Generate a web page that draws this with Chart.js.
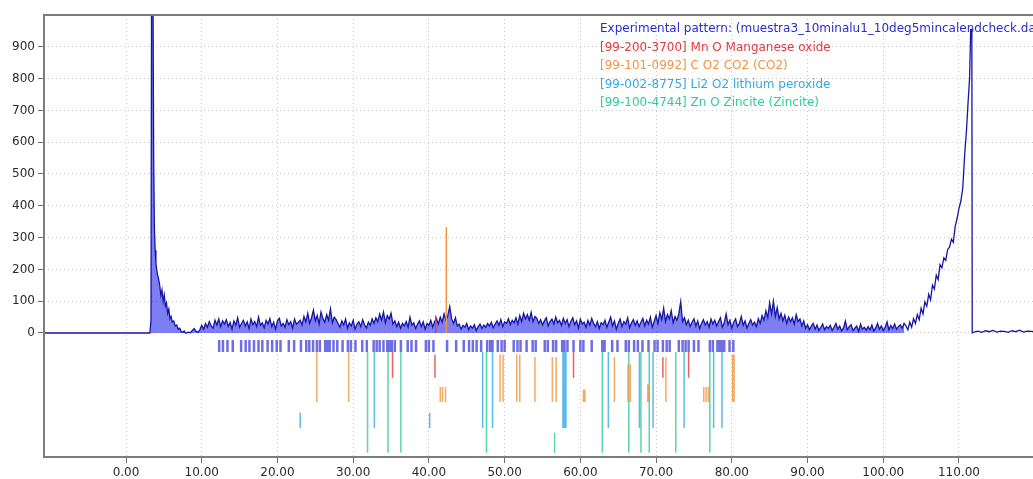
<!DOCTYPE html>
<html>
<head>
<meta charset="utf-8">
<script src="https://cdn.jsdelivr.net/npm/chart.js@4.4.0/dist/chart.umd.min.js"></script>
<style>
  html, body { margin: 0; padding: 0; background: #fff; overflow: hidden; }
  #wrap { position: absolute; left: 0; top: 0; width: 1040px; height: 479px; }
</style>
</head>
<body>
<div id="wrap"><canvas id="xrd" width="1040" height="479"></canvas></div>
<script>
/* === XRD pattern with phase sticks === */

// ==== DATA ====
var xTicks = [0, 10, 20, 30, 40, 50, 60, 70, 80, 90, 100, 110];
var yTicks = [0, 100, 200, 300, 400, 500, 600, 700, 800, 900];

// experimental pattern: low-angle part (2theta, counts)
var headX = [-11, 3.15, 3.3, 3.38, 3.55, 3.65, 3.75, 3.85, 3.95, 4.05, 4.15, 4.3, 4.45, 4.6, 4.75, 4.9, 5.05, 5.2, 5.35, 5.5, 5.65, 5.8, 5.95, 6.1, 6.3, 6.5, 6.7, 6.9, 7.1, 7.3, 7.5, 7.7, 7.85];
var headY = [0, 0, 40, 1150, 1150, 560, 330, 260, 220, 200, 185, 170, 150, 118, 135, 100, 120, 85, 95, 62, 75, 45, 52, 35, 38, 22, 25, 12, 15, 4, 2, 6, 0];

// experimental pattern: scan from 8.00 in 0.25 steps
var scanStart = 8.0, scanStep = 0.25;
var scanY = [
  0, 3, 0, 8, 14, 5, 2, 10, 24, 12, 30, 18, 36, 22, 15, 40, 25, 44, 20, 38,
  28, 42, 20, 33, 12, 38, 25, 48, 18, 30, 40, 22, 35, 14, 44, 26, 36, 20, 50, 24,
  32, 16, 40, 28, 45, 20, 34, 12, 38, 46, 22, 30, 18, 42, 26, 36, 15, 44, 28, 33,
  40, 25, 52, 35, 62, 30, 48, 72, 38, 55, 28, 66, 45, 34, 58, 40, 76, 32, 50, 42,
  30, 18, 38, 25, 44, 15, 32, 22, 40, 12, 28, 35, 20, 42, 26, 16, 34, 24, 45, 30,
  48, 35, 60, 40, 66, 32, 55, 44, 62, 28, 38, 20, 34, 15, 30, 22, 36, 18, 50, 25,
  32, 14, 28, 38, 20, 35, 12, 30, 24, 40, 18, 36, 45, 28, 50, 34, 60, 40, 55, 83,
  45, 30, 48, 22, 28, 12, 24, 18, 30, 10, 22, 15, 26, 8, 20, 28, 14, 25, 18, 30,
  22, 34, 16, 28, 38, 24, 42, 20, 35, 30, 45, 26, 40, 32, 48, 28, 55, 36, 62, 44,
  58, 40, 65, 35, 52, 46, 30, 42, 25, 38, 48, 22, 36, 44, 28, 50, 32, 40, 24, 46,
  30, 42, 20, 36, 48, 26, 38, 15, 44, 28, 34, 18, 40, 24, 46, 30, 20, 36, 14, 32,
  26, 40, 18, 34, 50, 22, 38, 12, 30, 44, 20, 36, 28, 48, 16, 32, 42, 24, 38, 20,
  34, 46, 22, 40, 28, 50, 18, 36, 55, 30, 64, 42, 78, 36, 58, 44, 70, 32, 52, 40,
  60, 98, 35, 48, 26, 40, 20, 34, 45, 22, 38, 14, 30, 42, 25, 36, 18, 44, 28, 40,
  22, 36, 48, 18, 32, 60, 26, 40, 15, 34, 44, 20, 30, 52, 24, 38, 16, 30, 42, 25,
  34, 20, 45, 30, 55, 40, 70, 48, 95, 60, 100, 52, 80, 44, 62, 38, 56, 30, 50, 35,
  48, 28, 58, 36, 44, 22, 38, 15, 26, 10, 22, 30, 12, 25, 8, 18, 28, 10, 20, 14,
  24, 8, 18, 30, 12, 22, 6, 16, 38, 10, 20, 26, 8, 15, 22, 5, 28, 12, 18, 9,
  20, 10, 25, 6, 16, 30, 12, 22, 8, 18, 35, 10, 24, 14, 28, 12, 20, 26, 15, 30
];

// experimental pattern: high-angle part
var tailX = [103.0, 103.25, 103.5, 103.75, 104.0, 104.25, 104.5, 104.75, 105.0, 105.25, 105.5, 105.75, 106.0, 106.25, 106.5, 106.75, 107.0, 107.25, 107.5, 107.75, 108.0, 108.25, 108.5, 108.75, 109.0, 109.25, 109.5, 109.75, 110.0, 110.25, 110.5, 110.75, 111.0, 111.2, 111.4, 111.55, 111.7, 111.75, 112.0, 112.5, 113, 113.5, 114, 114.5, 115, 115.5, 116, 116.5, 117, 117.5, 118, 118.5, 119, 119.5, 120, 121];
var tailY = [22, 10, 34, 18, 45, 30, 58, 42, 78, 60, 98, 84, 122, 104, 150, 138, 182, 168, 215, 205, 236, 228, 262, 270, 295, 285, 335, 360, 392, 415, 455, 560, 640, 725, 800, 955, 955, 0, 3, 6, 2, 7, 4, 8, 3, 6, 5, 2, 7, 4, 9, 3, 6, 5, 4, 5];

// experimental peak list marks
var peakListX = [12.3, 12.8, 13.4, 14.1, 15.2, 15.8, 16.3, 16.9, 17.5, 18.0, 18.7, 19.3, 19.9, 20.4, 21.5, 22.2, 23.1, 23.8, 24.2, 24.7, 25.2, 25.6, 26.3, 26.6, 26.9, 27.4, 27.9, 28.6, 29.3, 29.7, 30.3, 31.2, 31.8, 32.7, 33.1, 33.5, 34.0, 34.5, 34.8, 35.1, 35.5, 36.3, 37.2, 37.7, 38.3, 39.6, 40.0, 40.6, 42.4, 43.6, 44.6, 45.3, 45.8, 46.3, 46.9, 47.7, 48.1, 48.4, 49.1, 49.6, 50.0, 51.2, 51.7, 52.1, 52.9, 53.7, 54.1, 55.3, 55.7, 56.4, 56.8, 57.6, 57.9, 58.3, 59.1, 60.0, 60.4, 61.5, 62.9, 63.2, 64.2, 64.9, 66.0, 66.4, 67.1, 67.6, 68.2, 69.0, 69.8, 70.2, 70.9, 71.4, 71.8, 73.0, 73.5, 73.9, 74.3, 75.0, 75.6, 77.1, 77.5, 78.1, 78.4, 78.7, 79.0, 79.7, 80.2];

// phase sticks: 2theta and relative height (%)
var mnoX = [35.2, 40.8, 59.1, 70.9, 74.3];
var mnoPct = [100, 90, 100, 80, 100];
var co2X = [25.2, 29.4, 41.5, 41.8, 42.2, 49.4, 49.8, 51.6, 52.0, 54.0, 56.3, 56.8, 60.4, 60.6, 64.5, 66.3, 66.6, 68.9, 69.1, 71.3, 76.3, 76.6, 76.9, 80.1, 80.3];
var co2Pct = [100, 100, 30, 30, 30, 95, 95, 95, 95, 90, 90, 90, 25, 25, 90, 75, 75, 35, 35, 90, 30, 30, 30, 95, 95];
var li2o2X = [23.0, 32.8, 40.1, 47.1, 48.4, 57.7, 57.9, 58.1, 63.7, 67.8, 69.6, 73.7, 77.6, 78.7];
var li2o2Pct = [20, 100, 20, 100, 100, 100, 100, 100, 100, 100, 100, 100, 100, 100];
var znoX = [31.9, 34.6, 36.3, 47.6, 56.6, 62.9, 66.4, 68.0, 69.1, 72.6, 77.1];
var znoPct = [100, 100, 100, 100, 20, 100, 100, 100, 100, 100, 100];

// phase lines drawn inside the pattern area
var co2PlotX = [42.3], co2PlotY = [333];
var mnoPlotX = [40.9], mnoPlotY = [55];

var legendLines = [
  'Experimental pattern: (muestra3_10minalu1_10deg5mincalendcheck.dat)',
  '[99-200-3700] Mn O Manganese oxide',
  '[99-101-0992] C O2 CO2 (CO2)',
  '[99-002-8775] Li2 O2 lithium peroxide',
  '[99-100-4744] Zn O Zincite (Zincite)'
];

// ==== BUILD POINTS ====
var STICK_TOP = -60, PEAK_MARK_TOP = -22;
var BASE_MNO = -141, BASE_CO2 = -217, BASE_LI2O2 = -299, BASE_ZNO = -377;

function pts(xs, ys) { return xs.map(function (x, i) { return { x: x, y: ys[i] }; }); }
function scanPts() { return scanY.map(function (y, i) { return { x: scanStart + i * scanStep, y: y }; }); }

function sticks(xs, pcts, base) {
  var out = [];
  xs.forEach(function (x, i) {
    out.push({ x: x, y: base }, { x: x, y: base + pcts[i] / 100 * (STICK_TOP - base) }, { x: x, y: null });
  });
  return out;
}
function marks(xs, bottom, top) {
  var out = [];
  xs.forEach(function (x) { out.push({ x: x, y: bottom }, { x: x, y: top }, { x: x, y: null }); });
  return out;
}
function plotSticks(xs, ys) {
  var out = [];
  xs.forEach(function (x, i) { out.push({ x: x, y: 0 }, { x: x, y: ys[i] }, { x: x, y: null }); });
  return out;
}

var pattern = pts(headX, headY).concat(scanPts(), pts(tailX, tailY));
var patternFill = pts(headX, headY).concat(scanPts());

function stickSet(label, data, color, width, order) {
  return { label: label, data: data, borderColor: color, borderWidth: width, pointRadius: 0, spanGaps: false, fill: false, order: order };
}

// ==== PLUGINS ====
var frame = {
  id: 'frame',
  afterDatasetsDraw: function (c) {
    var a = c.chartArea, ctx = c.ctx;
    ctx.save();
    ctx.strokeStyle = '#7d7d7d'; ctx.lineWidth = 2;
    ctx.strokeRect(a.left, a.top, a.right - a.left, a.bottom - a.top);
    ctx.restore();
  }
};

var legendColors = ['#2b2bcf', '#e5383f', '#f2953f', '#34a9e0', '#30cc98'];
var legendText = {
  id: 'legendText',
  afterDraw: function (c) {
    var ctx = c.ctx;
    ctx.save();
    ctx.font = '12px "DejaVu Sans"';
    ctx.textBaseline = 'middle';
    ctx.textAlign = 'left';
    legendLines.forEach(function (t, i) {
      ctx.fillStyle = legendColors[i];
      ctx.fillText(t, 600, 29 + i * 18.5);
    });
    ctx.restore();
  }
};

// ==== CHART ====
var axisFont = { family: 'DejaVu Sans', size: 12 };
var gridOpts = { color: '#c9c9c9', lineWidth: 1, tickLength: 6, tickColor: '#6f6f6f', tickWidth: 1, tickBorderDash: [] };

new Chart(document.getElementById('xrd'), {
  type: 'line',
  data: {
    datasets: [
      stickSet('CO2 main', plotSticks(co2PlotX, co2PlotY), '#f2953f', 1.5, 1),
      stickSet('MnO main', plotSticks(mnoPlotX, mnoPlotY), '#e5383f', 1.5, 1),
      stickSet('Peaks', marks(peakListX, STICK_TOP, PEAK_MARK_TOP), 'rgba(50,50,215,0.7)', 2.5, 2),
      stickSet('MnO', sticks(mnoX, mnoPct, BASE_MNO), 'rgba(229,56,63,0.8)', 1.5, 3),
      stickSet('CO2', sticks(co2X, co2Pct, BASE_CO2), 'rgba(242,149,63,0.8)', 1.5, 3),
      stickSet('Li2O2', sticks(li2o2X, li2o2Pct, BASE_LI2O2), 'rgba(52,169,224,0.8)', 1.5, 3),
      stickSet('ZnO', sticks(znoX, znoPct, BASE_ZNO), 'rgba(48,204,152,0.8)', 1.5, 3),
      { label: 'Experimental pattern', data: pattern, borderColor: '#1616a4', borderWidth: 1.3, pointRadius: 0, fill: false, order: 4 },
      { label: 'fill', data: patternFill, borderWidth: 0, borderColor: 'rgba(0,0,0,0)', backgroundColor: 'rgba(40,40,235,0.6)', pointRadius: 0, fill: 'origin', order: 5 }
    ]
  },
  options: {
    responsive: false,
    animation: false,
    devicePixelRatio: 1,
    layout: { padding: { top: 15, left: 0, right: 0, bottom: 0 } },
    plugins: { legend: { display: false }, tooltip: { enabled: false } },
    elements: { point: { radius: 0 }, line: { tension: 0 } },
    scales: {
      x: {
        type: 'linear', min: -10.83, max: 120.7,
        afterBuildTicks: function (s) { s.ticks = xTicks.map(function (v) { return { value: v }; }); },
        afterFit: function (s) { s.height = 22; },
        ticks: { autoSkip: false, maxRotation: 0, padding: 3, color: '#2a2a2a', font: axisFont,
                 callback: function (v) { return v.toFixed(2); } },
        grid: gridOpts,
        border: { display: false, dash: [1, 3] }
      },
      y: {
        min: -390, max: 1000,
        afterBuildTicks: function (s) { s.ticks = yTicks.map(function (v) { return { value: v }; }); },
        afterFit: function (s) { s.width = 44; },
        ticks: { padding: 3, color: '#2a2a2a', font: axisFont,
                 callback: function (v) { return String(v); } },
        grid: gridOpts,
        border: { display: false, dash: [1, 3] }
      }
    }
  },
  plugins: [frame, legendText]
});
</script>
</body>
</html>
